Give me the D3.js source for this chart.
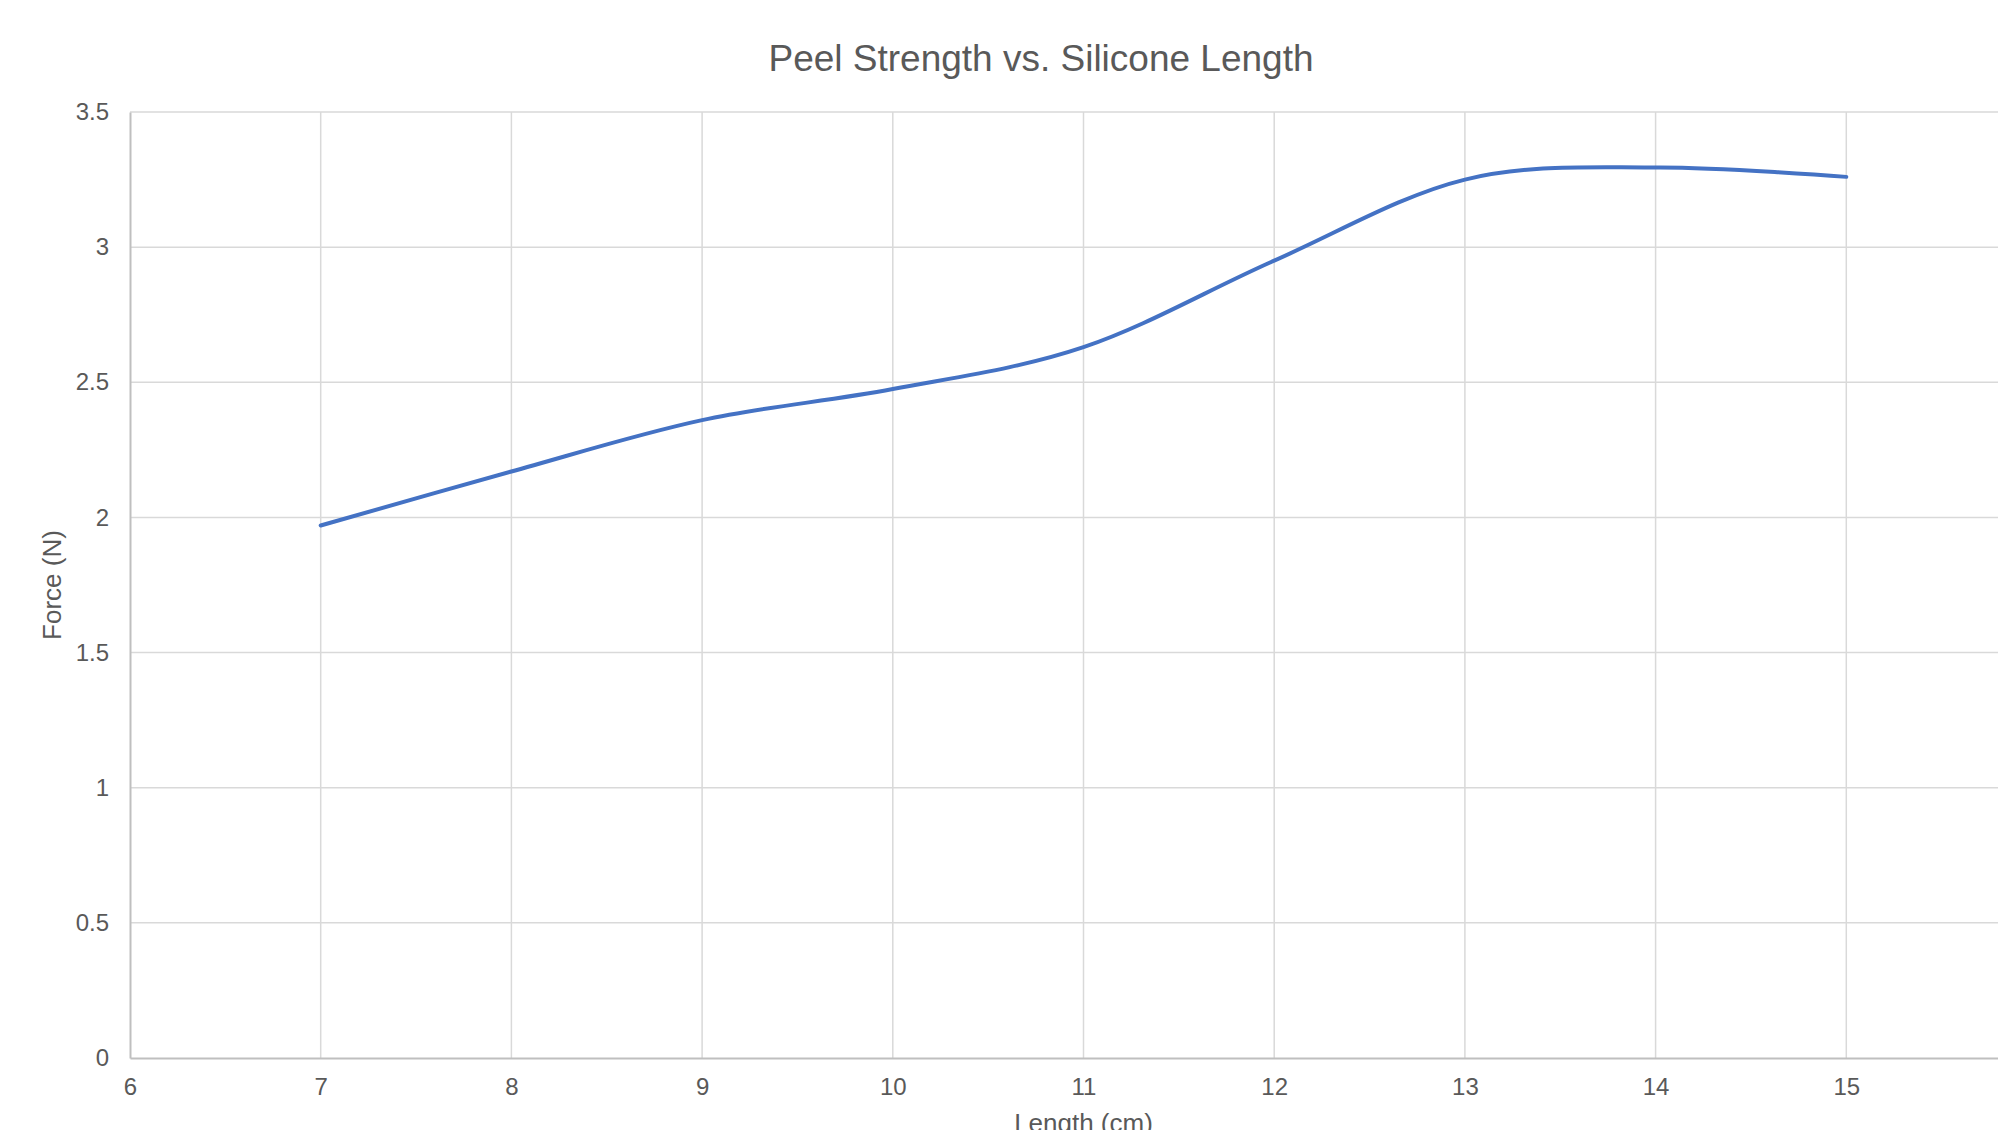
<!DOCTYPE html>
<html>
<head>
<meta charset="utf-8">
<script src="https://cdn.jsdelivr.net/npm/d3@7"></script>
<style>
  html, body { margin: 0; padding: 0; background: #ffffff; overflow: hidden; }
  svg { display: block; font-family: "Liberation Sans", Arial, sans-serif; }
</style>
</head>
<body>
<svg id="chart" width="1998" height="1130"></svg>
<script>
// Peel test results: silicone length (cm) against peel force (N)
const lengths = [7, 8, 9, 10, 11, 12, 13, 14, 15];
const forces = [1.97, 2.17, 2.36, 2.475, 2.63, 2.95, 3.25, 3.295, 3.26];
const xTicks = [6, 7, 8, 9, 10, 11, 12, 13, 14, 15];
const yTicks = [0, 0.5, 1, 1.5, 2, 2.5, 3, 3.5];

const titleText = "Peel Strength vs. Silicone Length";
const xTitle = "Length (cm)";
const yTitle = "Force (N)";

const plot = { left: 130, top: 112, bottom: 1058, right: 2037 };

const svg = d3.select("#chart");

// x runs to 16, past the right edge of the page
const x = d3.scaleLinear().domain([6, 16]).range([plot.left, plot.right]);
const y = d3.scaleLinear().domain([0, 3.5]).range([plot.bottom, plot.top]);

const gridColor = "#d9d9d9";
const textColor = "#595959";

// vertical gridlines
svg.append("g")
  .selectAll("line")
  .data(xTicks.slice(1).concat([16]))
  .join("line")
  .attr("x1", d => x(d)).attr("x2", d => x(d))
  .attr("y1", plot.top).attr("y2", plot.bottom)
  .attr("stroke", gridColor).attr("stroke-width", 1.5);

// horizontal gridlines
svg.append("g")
  .selectAll("line")
  .data(yTicks.slice(1))
  .join("line")
  .attr("x1", plot.left).attr("x2", plot.right)
  .attr("y1", d => y(d)).attr("y2", d => y(d))
  .attr("stroke", gridColor).attr("stroke-width", 1.5);

// axes
const xAxis = d3.axisBottom(x).tickValues(xTicks).tickSize(0).tickPadding(20)
  .tickFormat(d3.format("d"));
const gx = svg.append("g").attr("transform", `translate(0,${plot.bottom})`).call(xAxis);
gx.select(".domain").attr("stroke", "#bfbfbf").attr("stroke-width", 2);
gx.selectAll("text").attr("fill", textColor).attr("font-size", 24)
  .attr("font-family", "Liberation Sans, Arial, sans-serif");

const yAxis = d3.axisLeft(y).tickValues(yTicks).tickSize(0).tickPadding(21)
  .tickFormat(d => String(d));
const gy = svg.append("g").attr("transform", `translate(${plot.left},0)`).call(yAxis);
gy.select(".domain").attr("stroke", "#bfbfbf").attr("stroke-width", 2);
gy.selectAll("text").attr("fill", textColor).attr("font-size", 24)
  .attr("font-family", "Liberation Sans, Arial, sans-serif");

// smoothed data line
const line = d3.line()
  .x((d, i) => x(lengths[i]))
  .y(d => y(d))
  .curve(d3.curveCatmullRom.alpha(0));

svg.append("path")
  .datum(forces)
  .attr("d", line)
  .attr("fill", "none")
  .attr("stroke", "#4472c4")
  .attr("stroke-width", 4)
  .attr("stroke-linecap", "round")
  .attr("stroke-linejoin", "round");

// titles
svg.append("text")
  .attr("x", 1041).attr("y", 71)
  .attr("text-anchor", "middle")
  .attr("fill", textColor)
  .attr("font-size", 37)
  .text(titleText);

svg.append("text")
  .attr("x", (plot.left + plot.right) / 2).attr("y", 1132)
  .attr("text-anchor", "middle")
  .attr("fill", textColor)
  .attr("font-size", 26)
  .text(xTitle);

svg.append("text")
  .attr("transform", `translate(61,${(plot.top + plot.bottom) / 2}) rotate(-90)`)
  .attr("text-anchor", "middle")
  .attr("fill", textColor)
  .attr("font-size", 26)
  .text(yTitle);
</script>
</body>
</html>
